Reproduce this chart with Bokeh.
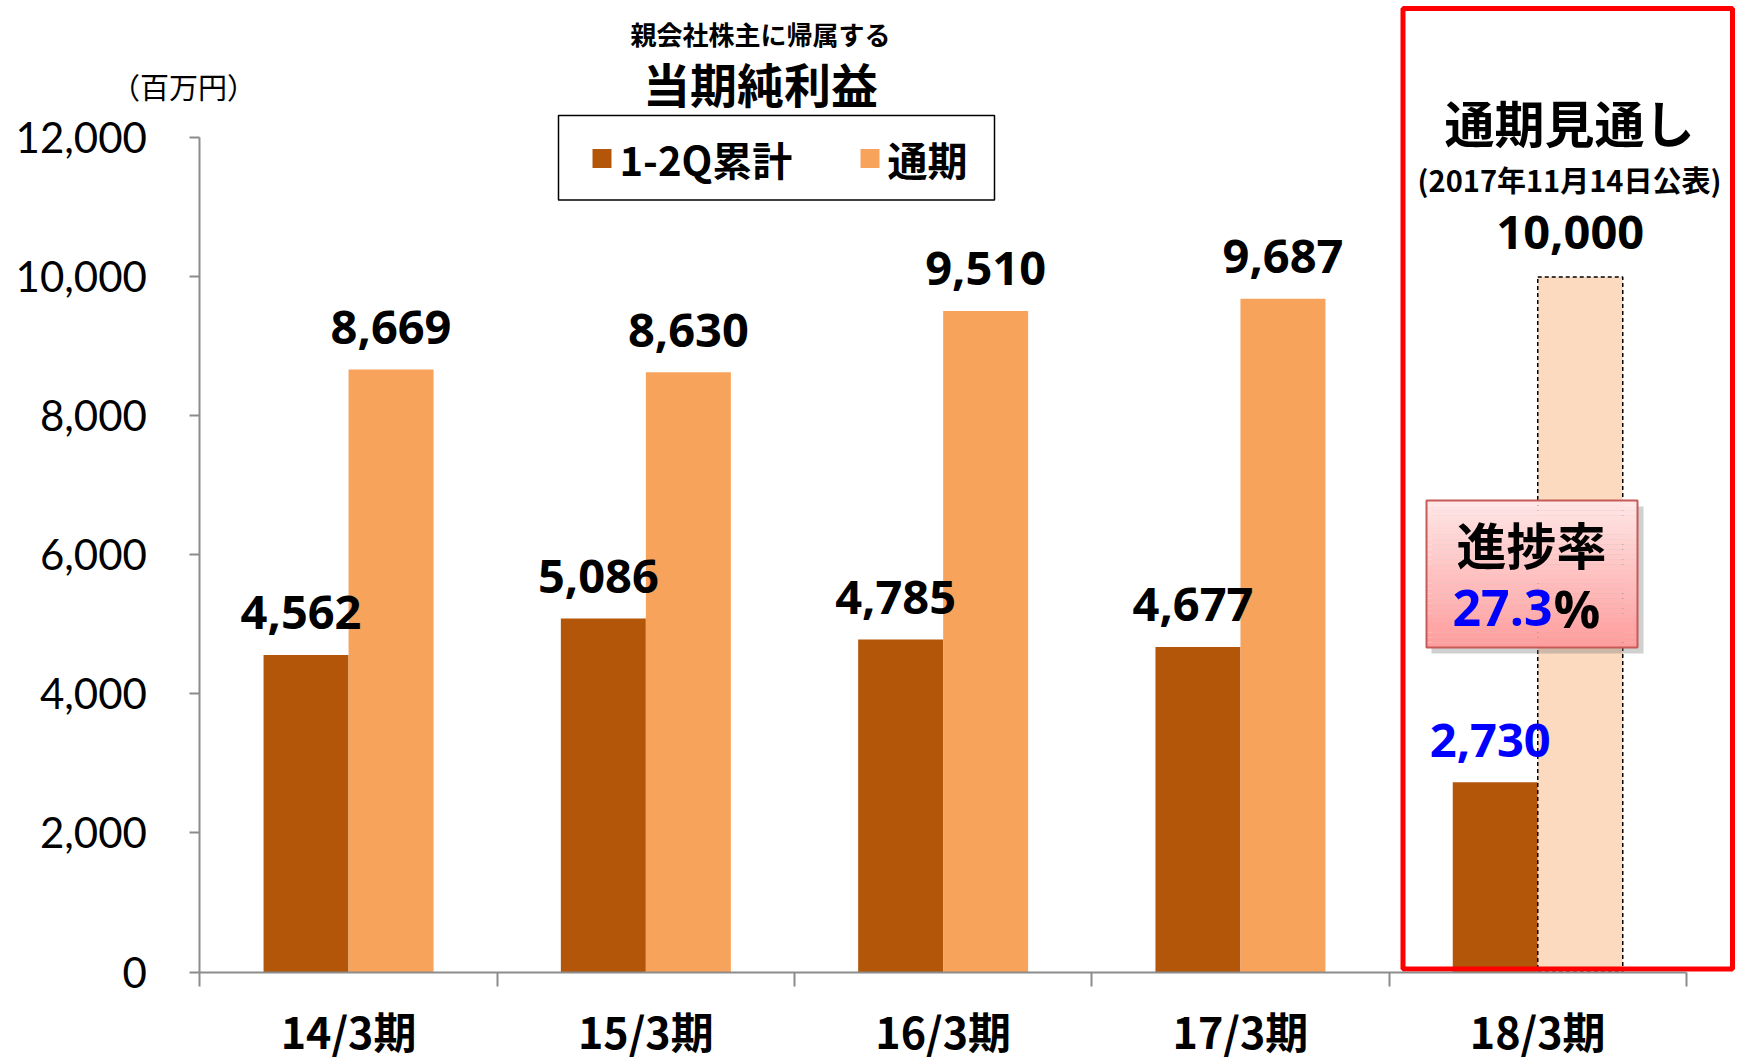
from bokeh.plotting import figure
from bokeh.models import Range1d, FixedTicker, NumeralTickFormatter, Label, ColumnDataSource
from bokeh.core.properties import value
from bokeh.embed import file_html
from bokeh.resources import INLINE

# ---------------- data ----------------
categories = ["14/3期", "15/3期", "16/3期", "17/3期", "18/3期"]
q2_values = [4562, 5086, 4785, 4677, 2730]          # 1-2Q累計
full_year_values = [8669, 8630, 9510, 9687]         # 通期 (actual)
forecast_value = [10000]                            # 通期見通し (18/3期)
y_ticks = [0, 2000, 4000, 6000, 8000, 10000, 12000]
progress_rate = "27.3"

# ---------------- layout helpers ----------------
W, H = 1737, 1062
X0, PX_X = 199.4, 297.3        # pixel of x=0, px per category
Y0, PX_Y = 971.5, 0.069508     # pixel of y=0, px per unit

def FX(px):   # image pixel x -> data x
    return (px - X0) / PX_X

def FY(py):   # image pixel y -> data y
    return (Y0 - py) / PX_Y

DARK = "#B3560A"
ORANGE = "#F7A35C"
LIGHT = "#FBDAC0"
JP = "Noto Sans CJK JP"
NUM = "Open Sans"

p = figure(width=W, height=H, output_backend="svg", toolbar_location=None,
           x_range=Range1d(FX(0), FX(W)), y_range=Range1d(FY(H), FY(0)),
           min_border_left=0, min_border_right=0, min_border_top=0,
           min_border_bottom=0)
p.outline_line_color = None
p.xgrid.visible = False
p.ygrid.visible = False
p.background_fill_color = "white"
p.border_fill_color = "white"

# y axis (drawn at x = 0)
p.yaxis.fixed_location = 0
p.yaxis.ticker = FixedTicker(ticks=y_ticks)
p.yaxis.formatter = NumeralTickFormatter(format="0,0")
p.yaxis.bounds = (0, 12000)
p.yaxis.axis_line_color = "#8C8C8C"
p.yaxis.axis_line_width = 2
p.yaxis.major_tick_line_color = "#8C8C8C"
p.yaxis.major_tick_line_width = 2
p.yaxis.major_tick_out = 10
p.yaxis.major_tick_in = 0
p.yaxis.minor_tick_line_color = None
p.yaxis.major_label_standoff = 43
p.yaxis.major_label_text_font = "Lato"
p.yaxis.major_label_text_font_size = "42px"
p.yaxis.major_label_text_color = "black"

# x axis (drawn at y = 0): labels at category centres, ticks at boundaries
centers = [i + 0.5 for i in range(len(categories))]
p.xaxis.fixed_location = 0
p.xaxis.ticker = FixedTicker(ticks=centers, minor_ticks=list(range(len(categories) + 1)))
p.xaxis.major_label_overrides = {c: name for c, name in zip(centers, categories)}
p.xaxis.bounds = (0, len(categories))
p.xaxis.axis_line_color = "#8C8C8C"
p.xaxis.axis_line_width = 2
p.xaxis.major_tick_line_color = None
p.xaxis.major_tick_out = 0
p.xaxis.major_tick_in = 0
p.xaxis.minor_tick_line_color = "#8C8C8C"
p.xaxis.minor_tick_line_width = 2
p.xaxis.minor_tick_out = 14
p.xaxis.minor_tick_in = 0
p.xaxis.major_label_standoff = 13
p.xaxis.major_label_text_font = JP
p.xaxis.major_label_text_font_style = "bold"
p.xaxis.major_label_text_font_size = "43px"
p.xaxis.major_label_text_color = "black"

# ---------------- bars ----------------
bw = 85 / PX_X
dark_x = [c - bw / 2 for c in centers]
orange_x = [c + bw / 2 for c in centers[:len(full_year_values)]]
fc_x = [centers[-1] + bw / 2]

p.vbar(x=dark_x, top=q2_values, width=bw, fill_color=DARK, line_color=None)
p.vbar(x=orange_x, top=full_year_values, width=bw, fill_color=ORANGE, line_color=None)
p.vbar(x=fc_x, top=forecast_value, width=bw, fill_color=LIGHT,
       line_color="black", line_width=1.5, line_dash="4 3")

# value labels
fmt = lambda v: f"{v:,}"
q2_src = ColumnDataSource(dict(x=dark_x, y=q2_values, t=[fmt(v) for v in q2_values],
                               c=["black"] * (len(q2_values) - 1) + ["#0000FF"]))
p.text(x="x", y="y", text="t", source=q2_src, text_color="c",
       text_font=value(NUM), text_font_style="bold", text_font_size="47px",
       text_align="center", text_baseline="middle", y_offset=-42, x_offset=-5)
fy_src = ColumnDataSource(dict(x=orange_x, y=full_year_values,
                               t=[fmt(v) for v in full_year_values]))
p.text(x="x", y="y", text="t", source=fy_src, text_color="black",
       text_font=value(NUM), text_font_style="bold", text_font_size="47px",
       text_align="center", text_baseline="middle", y_offset=-42)
fc_src = ColumnDataSource(dict(x=fc_x, y=forecast_value, t=[fmt(v) for v in forecast_value]))
p.text(x="x", y="y", text="t", source=fc_src, text_color="black",
       text_font=value(NUM), text_font_style="bold", text_font_size="47px",
       text_align="center", text_baseline="middle", y_offset=-44, x_offset=-10)

# ---------------- progress box ----------------
bx0, bx1, by0, by1 = FX(1426), FX(1637), FY(647), FY(500)
p.quad(left=[FX(1431)], right=[FX(1643)], bottom=[FY(653)], top=[FY(506)],
       fill_color="#777777", fill_alpha=0.35, line_color=None)
n = 30
c0, c1 = (255, 230, 230), (255, 158, 158)
strip_top = [by1 - (by1 - by0) * i / n for i in range(n)]
strip_bot = [by1 - (by1 - by0) * (i + 1) / n for i in range(n)]
strip_col = ["#%02X%02X%02X" % tuple(int(c0[k] + (c1[k] - c0[k]) * i / (n - 1)) for k in range(3))
             for i in range(n)]
p.quad(left=[bx0] * n, right=[bx1] * n, top=strip_top, bottom=strip_bot,
       fill_color=strip_col, line_color=None)
p.quad(left=[bx0], right=[bx1], top=[by1], bottom=[by0], fill_color=None,
       line_color="#C65A57", line_width=2)

# ---------------- red highlight frame ----------------
p.quad(left=[FX(1402.5)], right=[FX(1732)], top=[FY(8)], bottom=[FY(968.5)],
       fill_color=None, line_color="#FF0000", line_width=5)

# ---------------- legend (in a box) ----------------
p.quad(left=[FX(558)], right=[FX(994)], top=[FY(115)], bottom=[FY(199.5)],
       fill_color="white", line_color="black", line_width=1.5)
p.quad(left=[FX(592)], right=[FX(611)], top=[FY(148.5)], bottom=[FY(167.5)],
       fill_color=DARK, line_color=None)
p.quad(left=[FX(860)], right=[FX(879)], top=[FY(148.5)], bottom=[FY(167.5)],
       fill_color=ORANGE, line_color=None)

def add_label(text, fx, fy, size, color="black", font=JP, style="bold", align="center"):
    p.add_layout(Label(x=FX(fx), y=FY(fy), text=text, text_font=font,
                       text_font_size=f"{size}px", text_font_style=style,
                       text_color=color, text_align=align, text_baseline="middle"))

add_label("1-2Q累計", 619, 158, 40, align="left")
add_label("通期", 887, 158, 40, align="left")

# titles / notes
add_label("親会社株主に帰属する", 760, 33, 26)
add_label("当期純利益", 760, 82, 47)
add_label("（百万円）", 183, 85, 29, style="normal")
add_label("通期見通し", 1569, 120, 50)
add_label("(2017年11月14日公表)", 1569, 178, 29)
add_label("進捗率", 1531, 542, 50)
add_label(progress_rate, 1552, 607, 50, color="#0000FF", font=NUM, align="right")
add_label("%", 1553, 607, 52, font=NUM, align="left")

open("out.html", "w").write(file_html(p, INLINE))
